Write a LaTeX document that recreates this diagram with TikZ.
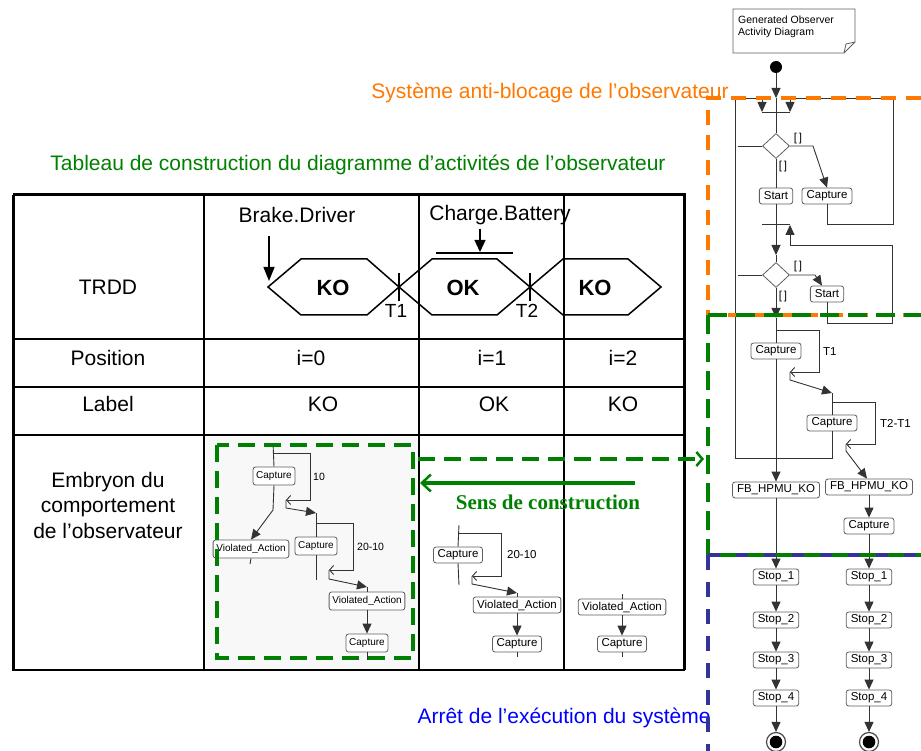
\documentclass[tikz,border=0pt]{standalone}
\usepackage{fontspec}
\setmainfont{Liberation Sans}
\newfontfamily\timesfont{Liberation Serif}
\usetikzlibrary{arrows.meta,shapes.geometric}
\definecolor{orng}{RGB}{255,120,0}
\definecolor{grn}{RGB}{0,128,0}
\definecolor{navy}{RGB}{51,51,153}
\definecolor{blu}{RGB}{0,0,255}
\definecolor{boxgray}{RGB}{95,95,95}
\definecolor{cellbg}{RGB}{248,248,248}
\newcommand\fsz[1]{\fontsize{#1}{#1}\selectfont}
\tikzset{
  arr/.style={-{Triangle[width=9pt,length=10pt]}},
  barb/.style={-{Straight Barb[length=4pt,width=9pt]}},
  ln/.style={draw=black!80, line width=0.9pt},
  rb/.style={draw=boxgray, rounded corners=2.5pt, fill=white, font=\fsz{11.5}, inner xsep=4.5pt, inner ysep=0pt, minimum height=16pt, line width=0.8pt},
  sbx/.style={draw=boxgray, rounded corners=2.5pt, fill=white, font=\fsz{10}, inner xsep=3.2pt, inner ysep=0pt, minimum height=18pt, line width=0.8pt},
  mbx/.style={draw=boxgray, rounded corners=2.5pt, fill=white, font=\fsz{11.5}, inner xsep=4pt, inner ysep=0pt, minimum height=16pt, line width=0.8pt},
  dia/.style={diamond, draw=boxgray, line width=0.8pt, minimum width=27pt, minimum height=25pt, inner sep=0pt, fill=white},
  tt/.style={font=\fsz{21}},
  lbl/.style={font=\fsz{11.5}, inner sep=0pt},
  hexa/.style={line width=1.5pt},
}
\begin{document}
\begin{tikzpicture}[x=1pt,y=-1pt]
\useasboundingbox (0,0) rectangle (921,751);

% ---------------- titles ----------------
\node[grn, tt] (title) at (358,165) {Tableau de construction du diagramme d’activités de l’observateur};
\node[orng, tt] (otitle) at (550,93) {Système anti-blocage de l’observateur};
\node[blu, tt] (btitle) at (564,718) {Arrêt de l’exécution du système};

% ---------------- table ----------------
\fill[cellbg] (206,437) rectangle (418,669);
\draw[line width=1.4pt] (204,195) -- (204,670) (419,195) -- (419,670) (564,195) -- (564,670);
\draw[line width=1.4pt] (13,339) -- (684,339) (13,387) -- (684,387) (13,435) -- (684,435);
\draw[line width=3pt] (13,195) -- (684,195) -- (684,670) (13,195) -- (13,670);
\draw[line width=2pt] (12,670) -- (685,670);

\node[tt] (trdd) at (108,287) {TRDD};
\node[tt] (pos) at (108,358) {Position};
\node[tt] (lab) at (108,404) {Label};
\node[font=\fontsize{21}{25.5}\selectfont, align=center] (emb) at (108,505) {Embryon du\\comportement\\de l’observateur};
\node[tt] (p0) at (311,358) {i=0};
\node[tt] (p1) at (492,358) {i=1};
\node[tt] (p2) at (623,358) {i=2};
\node[tt] (l0) at (323,404) {KO};
\node[tt] (l1) at (494,404) {OK};
\node[tt] (l2) at (623,404) {KO};

% hexagons
\draw[hexa] (268,287) -- (301,259) -- (367,259) -- (399,287) -- (367,315) -- (301,315) -- cycle;
\draw[hexa] (399,287) -- (432,259) -- (497,259) -- (530,287) -- (497,315) -- (432,315) -- cycle;
\draw[hexa] (530,287) -- (563,259) -- (628,259) -- (661,287) -- (628,315) -- (563,315) -- cycle;
\draw[line width=1.2pt] (399,273) -- (399,301) (530,273) -- (530,301);
\node[font=\bfseries\fsz{22}] (hko1) at (333,288) {KO};
\node[font=\bfseries\fsz{22}] (hok) at (463,288) {OK};
\node[font=\bfseries\fsz{22}] (hko2) at (595,288) {KO};
\node[font=\fsz{19}] (t1) at (396,311) {T1};
\node[font=\fsz{19}] (t2) at (527,311) {T2};
\node[tt] (brake) at (297,215) {Brake.Driver};
\node[tt] (charge) at (500,215) {Charge.Battery};
\coordinate (bs) at (269,236);
\coordinate (be) at (269,281);
\draw[line width=1.3pt, -{Triangle[width=11pt,length=14pt]}] (bs) -- (be);
\coordinate (cs) at (480,229);
\coordinate (ce) at (480,252);
\draw[line width=1.3pt, -{Triangle[width=11pt,length=12pt]}] (cs) -- (ce);
\draw[line width=1.3pt] (436,253) -- (513,253);

% ---------------- embryon col 2 ----------------
\node[sbx] (ca) at (274,476) {Capture};
\node[sbx] (va) at (251,549) {Violated\_Action};
\node[sbx] (cb) at (316,546) {Capture};
\node[sbx] (vb) at (367,601) {Violated\_Action};
\node[sbx] (cc) at (367,643) {Capture};
\draw[ln] (273,443) -- (ca.north);
\draw[ln] (ca.south) -- (273,510);
\draw[ln,arr] (273,510) -- (va.north);
\draw[ln] (va.south) -- (250,564);
\draw[ln,barb] (273,453) -| (310,500) -- (286,500);
\draw[ln,arr] (286,500) -- (286,508) -- (316,513);
\node[lbl, anchor=west, font=\fsz{10.5}] (n10) at (313,477) {10};
\draw[ln] (316,513) -- (cb.north);
\draw[ln] (cb.south) -- (316,580);
\draw[ln,barb] (316,523) -| (353,570) -- (329,570);
\draw[ln,arr] (329,570) -- (329,579) -- (367,587);
\draw[ln] (367,587) -- (vb.north);
\node[lbl, anchor=west, font=\fsz{10.5}] (n2010a) at (357,547) {20-10};
\draw[ln,arr] (vb.south) -- (cc.north);
\draw[ln] (cc.south) -- (367,660);

% ---------------- embryon col 3 ----------------
\node[mbx] (cd) at (458,555) {Capture};
\node[mbx] (vc) at (517,605) {Violated\_Action};
\node[mbx] (ce2) at (517,644) {Capture};
\draw[ln] (459,525) -- (cd.north);
\draw[ln] (cd.south) -- (459,585);
\draw[ln,barb] (459,533) -| (501,576) -- (472,576);
\draw[ln,arr] (472,576) -- (472,584) -- (517,593);
\draw[ln] (517,593) -- (vc.north);
\node[lbl, anchor=west] (n2010b) at (507,555) {20-10};
\draw[ln,arr] (vc.south) -- (ce2.north);
\draw[ln] (ce2.south) -- (517,657);

% ---------------- embryon col 4 ----------------
\node[mbx] (vd) at (622,607) {Violated\_Action};
\node[mbx] (cf) at (622,644) {Capture};
\draw[ln] (622,594) -- (vd.north);
\draw[ln,arr] (vd.south) -- (cf.north);
\draw[ln] (cf.south) -- (622,657);

% green marks
\draw[grn, line width=3.5pt, dash pattern=on 17pt off 9pt] (217,445) rectangle (413,658);
\coordinate (gs) at (418,459);
\coordinate (ge) at (704,459);
\draw[grn, line width=3.5pt, dash pattern=on 17pt off 9pt, -{Straight Barb[length=6pt,width=14pt,line width=2.5pt]}] (gs) -- (ge);
\coordinate (as) at (635,483);
\coordinate (ae) at (420,483);
\draw[grn, line width=3.5pt, -{Straight Barb[length=9pt,width=17pt,line width=2.5pt]}] (as) -- (ae);
\node[grn, font=\timesfont\bfseries\fsz{21}] (sens) at (548,502) {Sens de construction};

% ---------------- right activity diagram ----------------
\draw[draw=boxgray, line width=0.8pt, fill=white] (733,9) -- (855,9) -- (855,42) -- (844,53) -- (733,53) -- cycle;
\draw[draw=boxgray, line width=0.8pt] (855,42) -- (846,44) -- (844,53);
\node[font=\fsz{10.5}, align=left, anchor=north west, inner sep=0pt] (note) at (738,16) {Generated Observer\\[1pt]Activity Diagram};

\node[circle, fill=black, minimum size=12pt, inner sep=0pt] (init) at (776,67) {};
\node[dia] (d1) at (776,146) {};
\node[rb] (start1) at (776,196) {Start};
\node[rb] (cap1) at (827,196) {Capture};
\node[dia] (d2) at (776,275) {};
\node[rb] (start2) at (827,294) {Start};
\node[rb] (cap2) at (776,351) {Capture};
\node[rb] (cap3) at (832,423) {Capture};
\node[rb] (fb1) at (776,490) {FB\_HPMU\_KO};
\node[rb] (fb2) at (869,487) {FB\_HPMU\_KO};
\node[rb] (cap4) at (869,526) {Capture};
\foreach \c/\xx in {a/776,b/869}{
  \node[rb] (s1\c) at (\xx,577) {Stop\_1};
  \node[rb] (s2\c) at (\xx,620) {Stop\_2};
  \node[rb] (s3\c) at (\xx,660) {Stop\_3};
  \node[rb] (s4\c) at (\xx,698) {Stop\_4};
  \node[circle, draw=black!70, line width=1.2pt, fill=white, minimum size=19pt, inner sep=0pt,
        path picture={\fill[black] (path picture bounding box.center) circle (6.3pt);}] (f\c) at (\xx,742) {};
}

% merges
\draw[ln] (762,112) -- (790,112);
\draw[ln] (762,224) -- (790,224);
\draw[ln,arr] (init) -- (776,98);
\draw[ln] (776,98) -- (d1.north);
\draw[ln,arr] (cap3.south) |- (735,458) |- (762,98) -- (762,112);
\draw[ln,arr] (cap1.south) |- (893,224) |- (790,98) -- (790,112);
\draw[ln] (738,146) -- (d1.west);
\draw[ln,arr] (d1.east) -- (813,146) -- (cap1.north);
\node[lbl] (g1) at (798,139) {[\,]};
\node[lbl] (g2) at (783,167) {[\,]};
\draw[ln] (d1.south) -- (start1.north);
\draw[ln,arr] (start1.south) -- (776,255);
\draw[ln] (776,255) -- (d2.north);
\draw[ln,arr] (start2.south) |- (892,323) |- (790,245) -- (790,225);
\draw[ln] (738,275) -- (d2.west);
\draw[ln,arr] (d2.east) -- (815,275) -- ([xshift=-5pt]start2.north);
\node[lbl] (g3) at (798,267) {[\,]};
\node[lbl] (g4) at (783,297) {[\,]};
\draw[ln,arr] (d2.south) -- (776,318);
\draw[ln] (776,318) -- (cap2.north);
\draw[ln,arr] (cap2.south) -- (fb1.north);
\draw[ln,barb] (776,330) -| (819,372) -- (790,372);
\draw[ln,arr] (790,372) -- (790,380) -- (832,393);
\draw[ln] (832,393) -- (cap3.north);
\node[lbl, anchor=west] (lt1) at (823,352) {T1};
\draw[ln,barb] (832,402) -| (875,444) -- (846,444);
\draw[ln,arr] (846,444) -- (846,451) -- ([xshift=-2pt]fb2.north);
\node[lbl, anchor=west] (lt2) at (880,423) {T2-T1};
\draw[ln,arr] (fb2.south) -- (cap4.north);
\draw[ln,arr] (fb1.south) -- (s1a.north);
\draw[ln,arr] (cap4.south) -- (s1b.north);
\foreach \c in {a,b}{
  \draw[ln,arr] (s1\c.south) -- (s2\c.north);
  \draw[ln,arr] (s2\c.south) -- (s3\c.north);
  \draw[ln,arr] (s3\c.south) -- (s4\c.north);
  \draw[ln,arr] (s4\c.south) -- (f\c.north);
}

% dashed region borders
\draw[orng, line width=4pt, dash pattern=on 15pt off 10pt] (921,98) -- (708,98) -- (708,315) -- (921,315);
\draw[grn, line width=4pt, dash pattern=on 19pt off 9pt] (708,315) -- (921,315);
\draw[grn, line width=4pt, dash pattern=on 19pt off 9pt] (708,315) -- (708,555) -- (921,555);
\draw[navy, line width=4pt, dash pattern=on 12pt off 16pt] (708,555) -- (921,555);
\draw[navy, line width=4pt, dash pattern=on 15pt off 12pt] (708,555) -- (708,751);
\end{tikzpicture}
\end{document}
